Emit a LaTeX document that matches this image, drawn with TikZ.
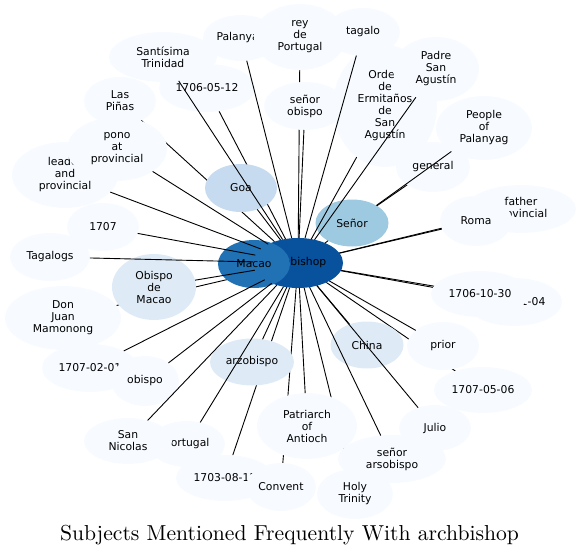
\documentclass[tikz,border=0pt]{standalone}
\usepackage{fontspec}
\newfontfamily\labelfont{DejaVu Sans}
\usepackage{xcolor}
\usepackage{tikz}
\usetikzlibrary{shapes.geometric}

\definecolor{freqA}{HTML}{08519C}
\definecolor{freqB}{HTML}{2171B5}
\definecolor{freqC}{HTML}{9ECAE1}
\definecolor{freqD}{HTML}{C6DBEF}
\definecolor{freqE}{HTML}{DEEBF7}
\definecolor{freqF}{HTML}{F7FBFF}

\pgfdeclarelayer{under}
\pgfsetlayers{under,main}

\begin{document}
\begin{tikzpicture}[x=1pt, y=-1pt,
  subj/.style={ellipse, fill=freqF, inner sep=0pt, outer sep=0pt, align=center,
    minimum width=72pt, minimum height=48pt, font=\labelfont\fontsize{10.8}{12}\selectfont},
  sz/.style 2 args={minimum width=#1pt, minimum height=#2pt},
  link/.style={line width=0.9pt, black}]
\useasboundingbox (0,0) rectangle (580,556);

% frequent subjects
\node[subj, fill=freqA, sz={90}{50}] (arch) at (298,263) {\hspace*{-3pt}archbishop};
\node[subj, fill=freqB] (mac) at (254,264) {Macao};
\node[subj, fill=freqC, sz={73}{47}] (senor) at (352,223) {Señor};
\node[subj, fill=freqD] (goa) at (241,188) {Goa};
\node[subj, fill=freqE, sz={84}{66}] (obmac) at (154,287) {Obispo\\de\\Macao};
\node[subj, fill=freqE, sz={73}{47}] (china) at (367,345) {China};
\node[subj, fill=freqE, sz={84}{47}] (arzob) at (252,362) {arzobispo};

% other subjects
\node[subj, sz={106}{66}] (leader) at (65,175) {leader\\and\\provincial};
\node[subj, sz={100}{64}] (pono) at (117,149) {pono\\at\\provincial};
\node[subj] (laspinas) at (120,101) {Las\\Piñas};
\node[subj, sz={108}{50}] (santisima) at (163,57) {Santísima\\Trinidad};
\node[subj, sz={96}{48}] (d0512) at (207,88) {1706-05-12};
\node[subj, sz={76}{46}] (palanyag) at (241,38) {Palanyag};
\node[subj, sz={92}{66}] (rey) at (300,37) {rey\\de\\Portugal};
\node[subj, sz={74}{48}] (tagalo) at (363,32) {tagalo};
\node[subj, sz={82}{48}] (senorob) at (305,106) {señor\\obispo};
\node[subj, sz={104}{122}] (orden) at (385,106) {Orden\\de\\Ermitaños\\de\\San\\Agustín};
\node[subj, sz={86}{64}] (padre) at (436,69) {Padre\\San\\Agustín};
\node[subj, sz={96}{64}] (people) at (484,128) {People\\of\\Palanyag};
\node[subj, sz={74}{50}] (general) at (433,167) {general};
\node[subj, sz={110}{48}] (father) at (521,209) {father\\provincial};
\node[subj, sz={72}{50}] (roma) at (476,221) {Roma};
\node[subj] (y1707) at (103,227) {1707};
\node[subj, sz={80}{48}] (tagalogs) at (50,257) {Tagalogs};
\node[subj, sz={116}{64}] (donjuan) at (63,318) {Don\\Juan\\Mamonong};
\node[subj, sz={96}{48}] (d0104) at (514,302) {1707-01-04};
\node[subj, sz={98}{46}] (d1030) at (480,294) {1706-10-30};
\node[subj] (prior) at (443,346) {prior};
\node[subj, sz={96}{48}] (d0201) at (90,368) {1707-02-01};
\node[subj, sz={68}{50}] (obispo) at (145,381) {obispo};
\node[subj, sz={98}{46}] (d0506) at (483,390) {1707-05-06};
\node[subj, sz={100}{66}] (patriarch) at (307,426) {Patriarch\\of\\Antioch};
\node[subj, sz={72}{46}] (julio) at (435,428) {Julio};
\node[subj, sz={76}{46}] (portugal) at (187,444) {Portugal};
\node[subj, sz={88}{46}] (sannicolas) at (128,441) {San\\Nicolas};
\node[subj, sz={108}{48}] (senorars) at (392,459) {señor\\arsobispo};
\node[subj, sz={98}{46}] (d0812) at (225,478) {1703-08-12};
\node[subj, sz={70}{48}] (convent) at (281,487) {Convent};
\node[subj, sz={76}{50}] (holy) at (355,494) {Holy\\Trinity};

% links hidden behind the ellipses
\begin{pgfonlayer}{under}
\draw[link] (arch) -- (mac); \draw[link] (arch) -- (rey); \draw[link] (arch) -- (laspinas);
\draw[link] (arch) -- (donjuan); \draw[link] (arch) -- (d0512); \draw[link] (arch) -- (father);
\draw[link] (arch) -- (d0104); \draw[link] (arch) -- (d0506); \draw[link] (arch) -- (d0812);
\draw[link] (arch) -- (convent); \draw[link] (arch) -- (holy);
\end{pgfonlayer}

% links drawn on top
\draw[link] (arch) -- (senor); \draw[link] (arch) -- (goa); \draw[link] (arch) -- (obmac);
\draw[link] (arch) -- (china); \draw[link] (arch) -- (arzob); \draw[link] (arch) -- (leader);
\draw[link] (arch) -- (pono); \draw[link] (arch) -- (santisima); \draw[link] (arch) -- (palanyag);
\draw[link] (arch) -- (tagalo); \draw[link] (arch) -- (senorob); \draw[link] (arch) -- (orden);
\draw[link] (arch) -- (padre); \draw[link] (arch) -- (roma); \draw[link] (arch) -- (y1707);
\draw[link] (arch) -- (tagalogs); \draw[link] (arch) -- (d1030); \draw[link] (arch) -- (prior);
\draw[link] (arch) -- (d0201); \draw[link] (arch) -- (obispo); \draw[link] (arch) -- (patriarch);
\draw[link] (arch) -- (julio); \draw[link] (arch) -- (portugal); \draw[link] (arch) -- (sannicolas);
\draw[link] (arch) -- (senorars);
\draw[link] (senor) -- (general); \draw[link] (senor) -- (people);

\node[font=\fontsize{10}{12}\selectfont, scale=2.165, anchor=base, inner sep=0pt] (title) at (289.5,540) {Subjects Mentioned Frequently With archbishop};
\end{tikzpicture}
\end{document}
